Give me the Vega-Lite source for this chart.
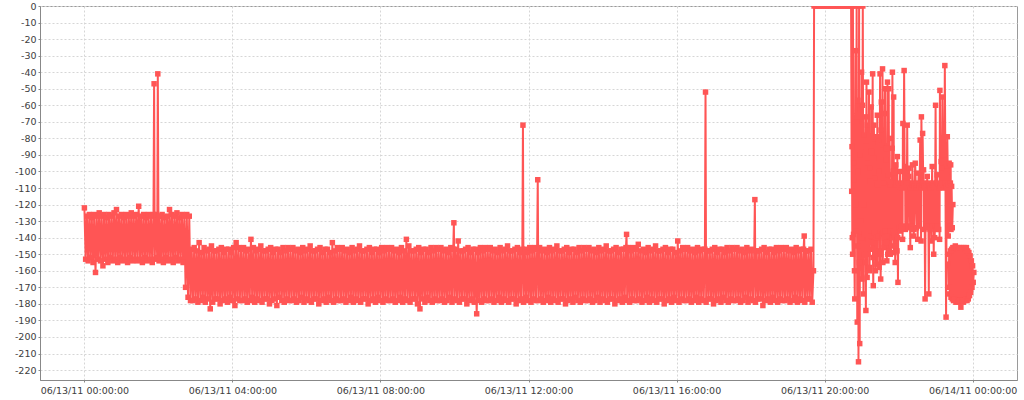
{
  "$schema": "https://vega.github.io/schema/vega-lite/v6.json",
  "description": "Signal level over one day, 06/13/11",
  "width": 977,
  "height": 374,
  "autosize": {"type": "none"},
  "padding": {"left": 40, "top": 6, "right": 7, "bottom": 20},
  "background": "white",
  "config": {
    "view": {"stroke": "#9a9a9a", "strokeWidth": 1},
    "axis": {
      "title": null,
      "grid": true,
      "gridColor": "#d6d6d6",
      "gridDash": [2, 2],
      "gridWidth": 1,
      "domainColor": "#888888",
      "tickColor": "#888888",
      "tickSize": 2,
      "labelFont": "DejaVu Sans",
      "labelFontSize": 9.5,
      "labelColor": "#404040",
      "labelOverlap": false,
      "labelFlush": false
    }
  },
  "datasets": {
    "a": [
      {"m":0,"v":-122},{"m":2,"v":-153},{"m":4,"v":-127},{"m":6,"v":-154},{"m":8,"v":-126},{"m":10,"v":-152},{"m":12,"v":-128},{"m":14,"v":-155},{"m":16,"v":-126},{"m":18,"v":-161},
      {"m":20,"v":-127},{"m":22,"v":-153},{"m":24,"v":-125},{"m":26,"v":-154},{"m":28,"v":-127},{"m":30,"v":-157},{"m":32,"v":-126},{"m":34,"v":-153},{"m":36,"v":-128},{"m":38,"v":-155},
      {"m":40,"v":-126},{"m":42,"v":-152},{"m":44,"v":-127},{"m":46,"v":-154},{"m":48,"v":-125},{"m":50,"v":-153},{"m":52,"v":-123},{"m":54,"v":-155},{"m":56,"v":-127},{"m":58,"v":-152},
      {"m":60,"v":-126},{"m":62,"v":-154},{"m":64,"v":-128},{"m":66,"v":-153},{"m":68,"v":-126},{"m":70,"v":-155},{"m":72,"v":-127},{"m":74,"v":-152},{"m":76,"v":-125},{"m":78,"v":-154},
      {"m":80,"v":-127},{"m":82,"v":-153},{"m":84,"v":-126},{"m":86,"v":-154},{"m":88,"v":-121},{"m":90,"v":-153},{"m":92,"v":-127},{"m":94,"v":-155},{"m":96,"v":-126},{"m":98,"v":-152},
      {"m":100,"v":-128},{"m":102,"v":-154},{"m":104,"v":-126},{"m":106,"v":-153},{"m":108,"v":-127},{"m":110,"v":-155},{"m":112,"v":-126},{"m":113,"v":-47},{"m":114,"v":-153},{"m":116,"v":-126},
      {"m":118,"v":-152},{"m":119,"v":-41},{"m":120,"v":-127},{"m":121,"v":-154},
      {"m":122,"v":-127},{"m":124,"v":-153},{"m":126,"v":-126},{"m":128,"v":-155},{"m":130,"v":-128},{"m":132,"v":-152},{"m":134,"v":-127},{"m":136,"v":-154},{"m":138,"v":-123},
      {"m":140,"v":-153},{"m":142,"v":-126},{"m":144,"v":-155},{"m":146,"v":-127},{"m":148,"v":-152},{"m":150,"v":-125},{"m":152,"v":-154},{"m":154,"v":-128},{"m":156,"v":-153},{"m":158,"v":-126},
      {"m":160,"v":-155},{"m":162,"v":-127},{"m":164,"v":-170},{"m":166,"v":-126},{"m":168,"v":-176},{"m":170,"v":-127},{"m":172,"v":-178},
      {"m":174,"v":-147},{"m":176,"v":-178},{"m":178,"v":-146},{"m":180,"v":-177},{"m":182,"v":-148},{"m":184,"v":-179},{"m":186,"v":-143},{"m":188,"v":-178},{"m":190,"v":-149},{"m":192,"v":-176},
      {"m":194,"v":-146},{"m":196,"v":-179},{"m":198,"v":-148},{"m":200,"v":-177},{"m":202,"v":-147},{"m":204,"v":-183},{"m":206,"v":-145},{"m":208,"v":-179},{"m":210,"v":-148},{"m":212,"v":-177},
      {"m":214,"v":-148},{"m":216,"v":-177},{"m":218,"v":-147},{"m":220,"v":-180},{"m":222,"v":-146},{"m":224,"v":-178},{"m":226,"v":-149},{"m":228,"v":-177},{"m":230,"v":-147},{"m":232,"v":-179},
      {"m":234,"v":-147},{"m":236,"v":-176},{"m":238,"v":-149},{"m":240,"v":-178},{"m":242,"v":-146},{"m":244,"v":-181},{"m":246,"v":-143},{"m":248,"v":-177},{"m":250,"v":-146},{"m":252,"v":-178},
      {"m":254,"v":-147},{"m":256,"v":-178},{"m":258,"v":-146},{"m":260,"v":-177},{"m":262,"v":-148},{"m":264,"v":-179},{"m":266,"v":-147},{"m":268,"v":-178},{"m":270,"v":-141},{"m":272,"v":-176},
      {"m":274,"v":-146},{"m":276,"v":-179},{"m":278,"v":-148},{"m":280,"v":-177},{"m":282,"v":-147},{"m":284,"v":-178},{"m":286,"v":-145},{"m":288,"v":-179},{"m":290,"v":-148},{"m":292,"v":-177},
      {"m":294,"v":-148},{"m":296,"v":-177},{"m":298,"v":-147},{"m":300,"v":-180},{"m":302,"v":-146},{"m":304,"v":-178},{"m":306,"v":-149},{"m":308,"v":-177},{"m":310,"v":-147},{"m":312,"v":-181},
      {"m":314,"v":-147},{"m":316,"v":-176},{"m":318,"v":-149},{"m":320,"v":-178},{"m":322,"v":-146},{"m":324,"v":-179},{"m":326,"v":-148},{"m":328,"v":-177},{"m":330,"v":-146},{"m":332,"v":-178},
      {"m":334,"v":-147},{"m":336,"v":-178},{"m":338,"v":-146},{"m":340,"v":-177},{"m":342,"v":-148},{"m":344,"v":-179},{"m":346,"v":-147},{"m":348,"v":-178},{"m":350,"v":-149},{"m":352,"v":-176},
      {"m":354,"v":-146},{"m":356,"v":-179},{"m":358,"v":-148},{"m":360,"v":-177},{"m":362,"v":-147},{"m":364,"v":-178},{"m":366,"v":-145},{"m":368,"v":-179},{"m":370,"v":-148},{"m":372,"v":-177},
      {"m":374,"v":-148},{"m":376,"v":-177},{"m":378,"v":-147},{"m":380,"v":-180},{"m":382,"v":-146},{"m":384,"v":-178},{"m":386,"v":-149},{"m":388,"v":-177},{"m":390,"v":-147},{"m":392,"v":-179},
      {"m":394,"v":-147},{"m":396,"v":-176},{"m":398,"v":-149},{"m":400,"v":-178},{"m":402,"v":-143},{"m":404,"v":-179},{"m":406,"v":-148},{"m":408,"v":-177},{"m":410,"v":-146},{"m":412,"v":-178},
      {"m":414,"v":-147},{"m":416,"v":-178},{"m":418,"v":-146},{"m":420,"v":-177},{"m":422,"v":-148},{"m":424,"v":-179},{"m":426,"v":-147},{"m":428,"v":-178},{"m":430,"v":-149},{"m":432,"v":-176},
      {"m":434,"v":-146},{"m":436,"v":-179},{"m":438,"v":-148},{"m":440,"v":-177},{"m":442,"v":-147},{"m":444,"v":-178},{"m":446,"v":-145},{"m":448,"v":-179},{"m":450,"v":-148},{"m":452,"v":-177},
      {"m":454,"v":-148},{"m":456,"v":-177},{"m":458,"v":-147},{"m":460,"v":-180},{"m":462,"v":-146},{"m":464,"v":-178},{"m":466,"v":-149},{"m":468,"v":-177},{"m":470,"v":-147},{"m":472,"v":-179},
      {"m":474,"v":-147},{"m":476,"v":-176},{"m":478,"v":-149},{"m":480,"v":-178},{"m":482,"v":-146},{"m":484,"v":-179},{"m":486,"v":-148},{"m":488,"v":-177},{"m":490,"v":-146},{"m":492,"v":-178},
      {"m":494,"v":-147},{"m":496,"v":-178},{"m":498,"v":-146},{"m":500,"v":-177},{"m":502,"v":-148},{"m":504,"v":-179},{"m":506,"v":-147},{"m":508,"v":-178},{"m":510,"v":-149},{"m":512,"v":-176},
      {"m":514,"v":-146},{"m":516,"v":-179},{"m":518,"v":-148},{"m":520,"v":-177},{"m":522,"v":-141},{"m":524,"v":-178},{"m":526,"v":-145},{"m":528,"v":-179},{"m":530,"v":-148},{"m":532,"v":-177},
      {"m":534,"v":-148},{"m":536,"v":-177},{"m":538,"v":-147},{"m":540,"v":-180},{"m":542,"v":-146},{"m":544,"v":-183},{"m":546,"v":-149},{"m":548,"v":-177},{"m":550,"v":-147},{"m":552,"v":-179},
      {"m":554,"v":-147},{"m":556,"v":-176},{"m":558,"v":-149},{"m":560,"v":-178},{"m":562,"v":-146},{"m":564,"v":-179},{"m":566,"v":-148},{"m":568,"v":-177},{"m":570,"v":-146},{"m":572,"v":-178},
      {"m":574,"v":-147},{"m":576,"v":-178},{"m":578,"v":-146},{"m":580,"v":-177},{"m":582,"v":-148},{"m":584,"v":-179},{"m":586,"v":-147},{"m":588,"v":-178},{"m":590,"v":-149},{"m":592,"v":-176},
      {"m":594,"v":-146},{"m":596,"v":-179},{"m":598,"v":-147},{"m":599,"v":-131},{"m":600,"v":-177},{"m":602,"v":-147},{"m":604,"v":-178},{"m":606,"v":-142},{"m":608,"v":-179},{"m":610,"v":-148},{"m":612,"v":-177},
      {"m":614,"v":-148},{"m":616,"v":-177},{"m":618,"v":-147},{"m":620,"v":-180},{"m":622,"v":-146},{"m":624,"v":-178},{"m":626,"v":-149},{"m":628,"v":-177},{"m":630,"v":-147},{"m":632,"v":-179},
      {"m":634,"v":-147},{"m":636,"v":-186},{"m":638,"v":-149},{"m":640,"v":-178},{"m":642,"v":-146},{"m":644,"v":-179},{"m":646,"v":-148},{"m":648,"v":-177},{"m":650,"v":-146},{"m":652,"v":-178},
      {"m":654,"v":-147},{"m":656,"v":-178},{"m":658,"v":-146},{"m":660,"v":-177},{"m":662,"v":-148},{"m":664,"v":-179},{"m":666,"v":-147},{"m":668,"v":-178},{"m":670,"v":-149},{"m":672,"v":-176},
      {"m":674,"v":-146},{"m":676,"v":-179},{"m":678,"v":-148},{"m":680,"v":-177},{"m":682,"v":-147},{"m":684,"v":-178},{"m":686,"v":-145},{"m":688,"v":-179},{"m":690,"v":-148},{"m":692,"v":-177},
      {"m":694,"v":-148},{"m":696,"v":-177},{"m":698,"v":-147},{"m":700,"v":-180},{"m":702,"v":-146},{"m":704,"v":-178},{"m":706,"v":-149},{"m":708,"v":-177},{"m":710,"v":-147},{"m":711,"v":-72},{"m":712,"v":-179},
      {"m":714,"v":-147},{"m":716,"v":-176},{"m":718,"v":-149},{"m":720,"v":-178},{"m":722,"v":-146},{"m":724,"v":-179},{"m":726,"v":-148},{"m":728,"v":-177},{"m":730,"v":-146},{"m":732,"v":-178},
      {"m":734,"v":-147},{"m":735,"v":-105},{"m":736,"v":-178},{"m":738,"v":-146},{"m":740,"v":-177},{"m":742,"v":-148},{"m":744,"v":-179},{"m":746,"v":-147},{"m":748,"v":-178},{"m":750,"v":-149},{"m":752,"v":-176},
      {"m":754,"v":-146},{"m":756,"v":-179},{"m":758,"v":-148},{"m":760,"v":-177},{"m":762,"v":-147},{"m":764,"v":-178},{"m":766,"v":-145},{"m":768,"v":-179},{"m":770,"v":-148},{"m":772,"v":-177},
      {"m":774,"v":-148},{"m":776,"v":-177},{"m":778,"v":-147},{"m":780,"v":-180},{"m":782,"v":-146},{"m":784,"v":-178},{"m":786,"v":-149},{"m":788,"v":-177},{"m":790,"v":-147},{"m":792,"v":-179},
      {"m":794,"v":-147},{"m":796,"v":-176},{"m":798,"v":-149},{"m":800,"v":-178},{"m":802,"v":-146},{"m":804,"v":-179},{"m":806,"v":-148},{"m":808,"v":-177},{"m":810,"v":-146},{"m":812,"v":-178},
      {"m":814,"v":-147},{"m":816,"v":-178},{"m":818,"v":-146},{"m":820,"v":-177},{"m":822,"v":-148},{"m":824,"v":-179},{"m":826,"v":-147},{"m":828,"v":-178},{"m":830,"v":-149},{"m":832,"v":-176},
      {"m":834,"v":-146},{"m":836,"v":-179},{"m":838,"v":-148},{"m":840,"v":-177},{"m":842,"v":-147},{"m":844,"v":-178},{"m":846,"v":-145},{"m":848,"v":-179},{"m":850,"v":-148},{"m":852,"v":-177},
      {"m":854,"v":-148},{"m":856,"v":-177},{"m":858,"v":-147},{"m":860,"v":-180},{"m":862,"v":-146},{"m":864,"v":-178},{"m":866,"v":-149},{"m":868,"v":-177},{"m":870,"v":-147},{"m":872,"v":-179},
      {"m":874,"v":-147},{"m":876,"v":-176},{"m":878,"v":-146},{"m":879,"v":-138},{"m":880,"v":-178},{"m":882,"v":-146},{"m":884,"v":-179},{"m":886,"v":-148},{"m":888,"v":-177},{"m":890,"v":-146},{"m":892,"v":-178},
      {"m":894,"v":-147},{"m":896,"v":-178},{"m":898,"v":-144},{"m":900,"v":-177},{"m":902,"v":-148},{"m":904,"v":-179},{"m":906,"v":-147},{"m":908,"v":-178},{"m":910,"v":-149},{"m":912,"v":-176},
      {"m":914,"v":-146},{"m":916,"v":-179},{"m":918,"v":-148},{"m":920,"v":-177},{"m":922,"v":-147},{"m":924,"v":-178},{"m":926,"v":-145},{"m":928,"v":-179},{"m":930,"v":-148},{"m":932,"v":-177},
      {"m":934,"v":-148},{"m":936,"v":-177},{"m":938,"v":-147},{"m":940,"v":-180},{"m":942,"v":-146},{"m":944,"v":-178},{"m":946,"v":-149},{"m":948,"v":-177},{"m":950,"v":-147},{"m":952,"v":-179},
      {"m":954,"v":-147},{"m":956,"v":-176},{"m":958,"v":-149},{"m":960,"v":-178},{"m":962,"v":-142},{"m":964,"v":-179},{"m":966,"v":-148},{"m":968,"v":-177},{"m":970,"v":-146},{"m":972,"v":-178},
      {"m":974,"v":-147},{"m":976,"v":-178},{"m":978,"v":-146},{"m":980,"v":-177},{"m":982,"v":-148},{"m":984,"v":-179},{"m":986,"v":-147},{"m":988,"v":-178},{"m":990,"v":-149},{"m":992,"v":-176},
      {"m":994,"v":-146},{"m":996,"v":-179},{"m":998,"v":-148},{"m":1000,"v":-177},{"m":1002,"v":-147},{"m":1004,"v":-178},{"m":1006,"v":-147},{"m":1007,"v":-52},{"m":1008,"v":-179},{"m":1010,"v":-148},{"m":1012,"v":-177},
      {"m":1014,"v":-148},{"m":1016,"v":-177},{"m":1018,"v":-147},{"m":1020,"v":-180},{"m":1022,"v":-146},{"m":1024,"v":-178},{"m":1026,"v":-149},{"m":1028,"v":-177},{"m":1030,"v":-147},{"m":1032,"v":-179},
      {"m":1034,"v":-147},{"m":1036,"v":-176},{"m":1038,"v":-149},{"m":1040,"v":-178},{"m":1042,"v":-146},{"m":1044,"v":-179},{"m":1046,"v":-148},{"m":1048,"v":-177},{"m":1050,"v":-146},{"m":1052,"v":-178},
      {"m":1054,"v":-147},{"m":1056,"v":-178},{"m":1058,"v":-146},{"m":1060,"v":-177},{"m":1062,"v":-148},{"m":1064,"v":-179},{"m":1066,"v":-147},{"m":1068,"v":-178},{"m":1070,"v":-149},{"m":1072,"v":-176},
      {"m":1074,"v":-146},{"m":1076,"v":-179},{"m":1078,"v":-148},{"m":1080,"v":-177},{"m":1082,"v":-147},{"m":1084,"v":-178},{"m":1086,"v":-148},{"m":1087,"v":-117},{"m":1088,"v":-179},{"m":1090,"v":-148},{"m":1092,"v":-177},
      {"m":1094,"v":-148},{"m":1096,"v":-177},{"m":1098,"v":-147},{"m":1100,"v":-181},{"m":1102,"v":-146},{"m":1104,"v":-178},{"m":1106,"v":-149},{"m":1108,"v":-177},{"m":1110,"v":-147},{"m":1112,"v":-179},
      {"m":1114,"v":-147},{"m":1116,"v":-176},{"m":1118,"v":-149},{"m":1120,"v":-178},{"m":1122,"v":-146},{"m":1124,"v":-179},{"m":1126,"v":-148},{"m":1128,"v":-177},{"m":1130,"v":-146},{"m":1132,"v":-178},
      {"m":1134,"v":-147},{"m":1136,"v":-178},{"m":1138,"v":-146},{"m":1140,"v":-177},{"m":1142,"v":-148},{"m":1144,"v":-179},{"m":1146,"v":-147},{"m":1148,"v":-178},{"m":1150,"v":-149},{"m":1152,"v":-176},
      {"m":1154,"v":-146},{"m":1156,"v":-179},{"m":1158,"v":-148},{"m":1160,"v":-177},{"m":1162,"v":-147},{"m":1164,"v":-178},{"m":1166,"v":-147},{"m":1167,"v":-139},{"m":1168,"v":-179},{"m":1170,"v":-148},{"m":1172,"v":-177},
      {"m":1174,"v":-148},{"m":1176,"v":-177},{"m":1178,"v":-147},{"m":1180,"v":-179},{"m":1182,"v":-160},
      {"m":1183,"v":0},{"m":1186,"v":0},{"m":1189,"v":0},{"m":1192,"v":0},{"m":1195,"v":0},{"m":1198,"v":0},{"m":1201,"v":0},{"m":1204,"v":0},{"m":1207,"v":0},{"m":1210,"v":0},
      {"m":1213,"v":0},{"m":1216,"v":0},{"m":1219,"v":0},{"m":1222,"v":0},{"m":1225,"v":0},{"m":1228,"v":0},{"m":1231,"v":0},{"m":1234,"v":0},{"m":1237,"v":0},{"m":1240,"v":0},{"m":1243,"v":0},
      {"m":1244,"v":-112},{"m":1244.5,"v":-85},{"m":1245,"v":-140},{"m":1245.5,"v":-150},{"m":1246,"v":0},{"m":1247,"v":-138},{"m":1247.5,"v":-95},{"m":1248,"v":-105},{"m":1248.5,"v":-160},{"m":1249,"v":-177},
      {"m":1250,"v":-27},{"m":1250.5,"v":-120},{"m":1251,"v":-136},{"m":1251.5,"v":-70},{"m":1252,"v":0},{"m":1253,"v":-191},{"m":1253.5,"v":-145},{"m":1254,"v":-57},{"m":1254.5,"v":-100},{"m":1255,"v":-215},
      {"m":1256,"v":0},{"m":1256.5,"v":-155},{"m":1257,"v":-204},{"m":1257.5,"v":-90},{"m":1258,"v":-63},{"m":1258.5,"v":-130},{"m":1259,"v":-150},{"m":1260,"v":-40},{"m":1260.5,"v":-165},{"m":1261,"v":-140},
      {"m":1261.5,"v":-60},{"m":1262,"v":0},{"m":1263,"v":-174},{"m":1263.5,"v":-120},{"m":1264,"v":-78},{"m":1264.5,"v":-150},{"m":1265,"v":-138},{"m":1266,"v":-67},{"m":1266.5,"v":-155},{"m":1267,"v":-184},
      {"m":1267.5,"v":-85},{"m":1268,"v":-46},{"m":1269,"v":-164},{"m":1269.5,"v":-72},{"m":1270,"v":-95},{"m":1270.5,"v":-150},{"m":1271,"v":-141},{"m":1272,"v":-52},{"m":1272.5,"v":-160},{"m":1273,"v":-158},
      {"m":1273.5,"v":-98},{"m":1274,"v":-106},{"m":1275,"v":-139},{"m":1275.5,"v":-61},{"m":1276,"v":-88},{"m":1276.5,"v":-147},{"m":1277,"v":-143},{"m":1278,"v":-41},{"m":1278.5,"v":-152},{"m":1279,"v":-169},
      {"m":1279.5,"v":-92},{"m":1280,"v":-72},{"m":1281,"v":-137},{"m":1281.5,"v":-80},{"m":1282,"v":-104},{"m":1282.5,"v":-160},{"m":1283,"v":-150},{"m":1284,"v":-79},{"m":1284.5,"v":-140},{"m":1285,"v":-156},
      {"m":1285.5,"v":-66},{"m":1286,"v":-108},{"m":1287,"v":-139},{"m":1287.5,"v":-82},{"m":1288,"v":-100},{"m":1288.5,"v":-158},{"m":1289,"v":-148},{"m":1290,"v":-41},{"m":1290.5,"v":-150},{"m":1291,"v":-165},
      {"m":1291.5,"v":-75},{"m":1292,"v":-58},{"m":1293,"v":-138},{"m":1293.5,"v":-84},{"m":1294,"v":-38},{"m":1294.5,"v":-155},{"m":1295,"v":-137},{"m":1296,"v":-107},{"m":1296.5,"v":-146},{"m":1297,"v":-140},
      {"m":1297.5,"v":-65},{"m":1298,"v":-50},{"m":1299,"v":-136},{"m":1299.5,"v":-93},{"m":1300,"v":-86},{"m":1300.5,"v":-143},{"m":1301,"v":-154},{"m":1302,"v":-46},{"m":1302.5,"v":-150},{"m":1303,"v":-139},
      {"m":1303.5,"v":-102},{"m":1304,"v":-50},{"m":1305,"v":-148},{"m":1305.5,"v":-80},{"m":1306,"v":-108},{"m":1306.5,"v":-150},{"m":1307,"v":-136},{"m":1308,"v":-106},{"m":1308.5,"v":-145},{"m":1309,"v":-140},
      {"m":1309.5,"v":-86},{"m":1310,"v":-40},{"m":1311,"v":-137},{"m":1311.5,"v":-100},{"m":1312,"v":-55},{"m":1312.5,"v":-149},{"m":1313,"v":-138},{"m":1314,"v":-104},{"m":1314.5,"v":-155},{"m":1315,"v":-145},
      {"m":1315.5,"v":-96},{"m":1316,"v":-108},{"m":1317,"v":-135},{"m":1317.5,"v":-148},{"m":1318,"v":-91},{"m":1318.5,"v":-140},{"m":1319,"v":-167},{"m":1320,"v":-107},{"m":1321,"v":-134},{"m":1322,"v":-109},
      {"m":1322.5,"v":-100},{"m":1323,"v":-136},{"m":1324,"v":-108},{"m":1325,"v":-133},{"m":1326,"v":-110},{"m":1326.5,"v":-141},{"m":1327,"v":-71},{"m":1328,"v":-107},{"m":1329,"v":-39},{"m":1330,"v":-109},
      {"m":1330.5,"v":-97},{"m":1331,"v":-135},{"m":1332,"v":-106},{"m":1333,"v":-133},{"m":1334,"v":-72},{"m":1335,"v":-134},{"m":1336,"v":-107},{"m":1336.5,"v":-103},{"m":1337,"v":-98},{"m":1338,"v":-108},
      {"m":1339,"v":-146},{"m":1340,"v":-110},{"m":1341,"v":-133},{"m":1342,"v":-108},{"m":1342.5,"v":-96},{"m":1343,"v":-135},{"m":1344,"v":-107},{"m":1344.5,"v":-139},{"m":1345,"v":-135},{"m":1346,"v":-109},
      {"m":1347,"v":-95},{"m":1348,"v":-110},{"m":1349,"v":-134},{"m":1350,"v":-108},{"m":1351,"v":-141},{"m":1352,"v":-107},{"m":1352.5,"v":-101},{"m":1353,"v":-133},{"m":1354,"v":-109},{"m":1355,"v":-81},
      {"m":1356,"v":-110},{"m":1356.5,"v":-142},{"m":1357,"v":-67},{"m":1358,"v":-108},{"m":1359,"v":-77},{"m":1360,"v":-107},{"m":1360.5,"v":-99},{"m":1361,"v":-135},{"m":1362,"v":-109},{"m":1363,"v":-177},
      {"m":1364,"v":-110},{"m":1365,"v":-133},{"m":1366,"v":-108},{"m":1366.5,"v":-103},{"m":1367,"v":-134},{"m":1368,"v":-107},{"m":1369,"v":-174},{"m":1370,"v":-109},{"m":1371,"v":-135},{"m":1372,"v":-110},
      {"m":1373,"v":-142},{"m":1374,"v":-108},{"m":1374.5,"v":-97},{"m":1375,"v":-133},{"m":1376,"v":-107},{"m":1377,"v":-150},{"m":1378,"v":-109},{"m":1378.5,"v":-140},{"m":1379,"v":-134},{"m":1380,"v":-60},
      {"m":1381,"v":-135},{"m":1382,"v":-107},{"m":1382.5,"v":-102},{"m":1383,"v":-133},{"m":1384,"v":-108},{"m":1385,"v":-135},{"m":1386,"v":-110},{"m":1386.5,"v":-141},{"m":1387,"v":-51},{"m":1388,"v":-109},
      {"m":1389,"v":-94},{"m":1390,"v":-107},{"m":1390.5,"v":-98},{"m":1391,"v":-55},{"m":1392,"v":-108},{"m":1393,"v":-90},{"m":1394,"v":-110},{"m":1395,"v":-36},{"m":1396,"v":-107},{"m":1397,"v":-188},
      {"m":1398,"v":-109},{"m":1398.5,"v":-100},{"m":1399,"v":-79},{"m":1400,"v":-108},{"m":1400.5,"v":-139},{"m":1401,"v":-134},{"m":1402,"v":-95},{"m":1403,"v":-133},{"m":1404,"v":-107},{"m":1404.5,"v":-96},
      {"m":1405,"v":-135},{"m":1406,"v":-109},{"m":1407,"v":-134},{"m":1408,"v":-120}
    ],
    "b": [
      {"m":1400,"v":-156},{"m":1401,"v":-170},{"m":1402,"v":-150},{"m":1403,"v":-174},{"m":1404,"v":-148},{"m":1405,"v":-176},{"m":1406,"v":-147},{"m":1407,"v":-177},{"m":1408,"v":-146},{"m":1409,"v":-178},
      {"m":1410,"v":-146},{"m":1411,"v":-177},{"m":1412,"v":-145},{"m":1413,"v":-179},{"m":1414,"v":-146},{"m":1415,"v":-178},{"m":1416,"v":-147},{"m":1417,"v":-179},{"m":1418,"v":-146},{"m":1419,"v":-178},
      {"m":1420,"v":-147},{"m":1421,"v":-182},{"m":1422,"v":-146},{"m":1423,"v":-178},{"m":1424,"v":-147},{"m":1425,"v":-179},{"m":1426,"v":-146},{"m":1427,"v":-178},{"m":1428,"v":-147},{"m":1429,"v":-177},
      {"m":1430,"v":-146},{"m":1431,"v":-178},{"m":1432,"v":-148},{"m":1433,"v":-177},{"m":1434,"v":-149},{"m":1435,"v":-175},{"m":1436,"v":-151},{"m":1437,"v":-173},{"m":1438,"v":-154},{"m":1439,"v":-170},
      {"m":1440,"v":-157},{"m":1441,"v":-167},{"m":1442,"v":-161}
    ]
  },
  "encoding": {
    "x": {
      "field": "m",
      "type": "quantitative",
      "scale": {"domain": [-72, 1512], "nice": false, "zero": false},
      "axis": {
        "values": [0, 240, 480, 720, 960, 1200, 1440],
        "labelExpr": "timeFormat(datetime(2011, 5, 13, 0, datum.value), '%m/%d/%y %H:%M:%S')",
        "labelPadding": 3
      }
    },
    "y": {
      "field": "v",
      "type": "quantitative",
      "scale": {"domain": [-226, 0], "nice": false, "zero": false},
      "axis": {
        "values": [0, -10, -20, -30, -40, -50, -60, -70, -80, -90, -100, -110, -120, -130, -140, -150, -160, -170, -180, -190, -200, -210, -220],
        "labelExpr": "'' + datum.value",
        "labelPadding": 2
      }
    }
  },
  "layer": [
    {"data": {"name": "a"}, "mark": {"type": "line", "color": "#FF5555", "strokeWidth": 2, "clip": true}},
    {"data": {"name": "a"}, "mark": {"type": "point", "shape": "square", "filled": true, "size": 30, "color": "#FF5555", "opacity": 1, "clip": true}},
    {"data": {"name": "b"}, "mark": {"type": "line", "color": "#FF5555", "strokeWidth": 2, "clip": true}},
    {"data": {"name": "b"}, "mark": {"type": "point", "shape": "square", "filled": true, "size": 30, "color": "#FF5555", "opacity": 1, "clip": true}}
  ]
}
